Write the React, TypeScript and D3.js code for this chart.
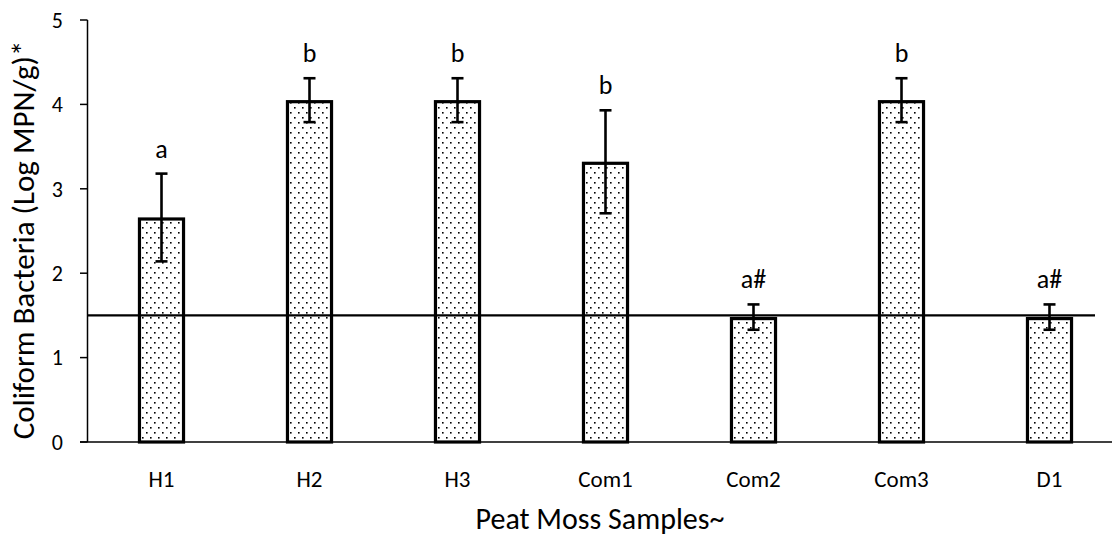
import React, { useLayoutEffect } from "react";
import * as d3 from "d3";

const categories = ["H1", "H2", "H3", "Com1", "Com2", "Com3", "D1"];
const values = [2.66, 4.05, 4.05, 3.32, 1.48, 4.05, 1.48];
const errors = [0.52, 0.26, 0.26, 0.61, 0.15, 0.26, 0.15];
const groupLabels = ["a", "b", "b", "b", "a#", "b", "a#"];
const yTicks = [0, 1, 2, 3, 4, 5];
const referenceLine = 1.5;
const yTitle = "Coliform Bacteria (Log MPN/g)*";
const xTitle = "Peat Moss Samples~";

const W = 1112;
const H = 538;
const FONT = "Calibri, Carlito, Lato, 'Liberation Sans', sans-serif";

export default function App() {
  useLayoutEffect(() => {
    document.body.style.margin = "0";
  }, []);

  const x = d3
    .scaleBand<string>()
    .domain(categories)
    .range([87.5, 1123.5])
    .paddingInner(0.682)
    .paddingOuter(0.341);
  const y = d3.scaleLinear().domain([0, 5]).range([442, 20]);
  const axisX = 87.5;

  return (
    <svg width={W} height={H} style={{ display: "block", background: "#fff" }} fontFamily={FONT}>
      <defs>
        <pattern id="dots" width={8} height={10} patternUnits="userSpaceOnUse">
          <rect width={8} height={10} fill="#fff" />
          <rect x={2} y={2} width={1.6} height={1.6} fill="#000" />
          <rect x={6} y={7} width={1.6} height={1.6} fill="#000" />
        </pattern>
      </defs>

      {/* bars */}
      {categories.map((c, i) => {
        const x0 = x(c)!;
        const bw = x.bandwidth();
        return (
          <rect
            key={c}
            x={x0 + 1.5}
            y={y(values[i]) + 1.5}
            width={bw - 3}
            height={y(0) - y(values[i]) - 1.5}
            fill="url(#dots)"
            stroke="#000"
            strokeWidth={3.2}
          />
        );
      })}

      {/* reference line */}
      <line x1={axisX} x2={1095} y1={y(referenceLine)} y2={y(referenceLine)} stroke="#000" strokeWidth={2.2} />

      {/* error bars */}
      {categories.map((c, i) => {
        const cx = x(c)! + x.bandwidth() / 2;
        const top = y(values[i] + errors[i]);
        const bot = y(values[i] - errors[i]);
        return (
          <g key={c} stroke="#000" strokeWidth={2.6}>
            <line x1={cx} x2={cx} y1={top} y2={bot} />
            <line x1={cx - 6} x2={cx + 6} y1={top} y2={top} />
            <line x1={cx - 6} x2={cx + 6} y1={bot} y2={bot} />
          </g>
        );
      })}

      {/* group labels */}
      {categories.map((c, i) => {
        const cx = x(c)! + x.bandwidth() / 2;
        return (
          <text key={c} x={cx} y={y(values[i] + errors[i]) - 16} textAnchor="middle" fontSize={26} fill="#000">
            {groupLabels[i]}
          </text>
        );
      })}

      {/* y axis */}
      <line x1={axisX} x2={axisX} y1={y(5)} y2={y(0)} stroke="#000" strokeWidth={1.5} />
      {yTicks.map((t) => (
        <g key={t}>
          <line x1={80} x2={axisX} y1={y(t)} y2={y(t)} stroke="#000" strokeWidth={1.5} />
          <text x={63} y={y(t)} dy="0.35em" textAnchor="end" fontSize={22} fill="#000">
            {t}
          </text>
        </g>
      ))}

      {/* x axis */}
      <line x1={80} x2={1123.5} y1={y(0)} y2={y(0)} stroke="#000" strokeWidth={1.5} />
      {categories.map((c) => (
        <text key={c} x={x(c)! + x.bandwidth() / 2} y={487} textAnchor="middle" fontSize={23} fill="#000">
          {c}
        </text>
      ))}

      {/* titles */}
      <text x={600} y={529} textAnchor="middle" fontSize={30} fill="#000">
        {xTitle}
      </text>
      <text transform={`translate(34,240) rotate(-90)`} textAnchor="middle" fontSize={31} fill="#000">
        {yTitle}
      </text>
    </svg>
  );
}
